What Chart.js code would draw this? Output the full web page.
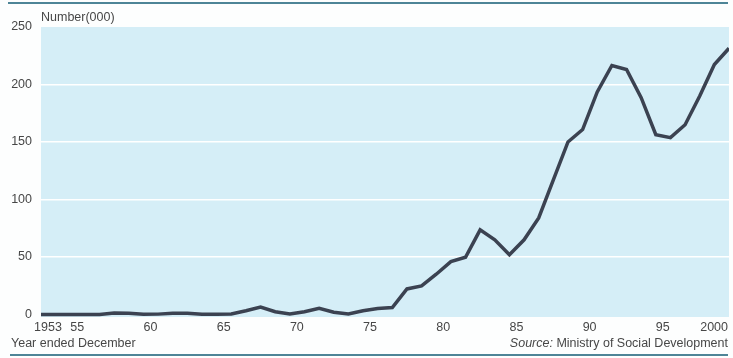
<!DOCTYPE html>
<html>
<head>
<meta charset="utf-8">
<script src="https://cdn.jsdelivr.net/npm/chart.js@4.4.1/dist/chart.umd.min.js"></script>
<style>
  html, body { margin: 0; padding: 0; background: #fdfefe; }
  #wrap { position: relative; width: 733px; height: 358px; }
</style>
</head>
<body>
<div id="wrap"><canvas id="c" width="733" height="358"></canvas></div>
<script>
// ---- Data ----
const years = [1953,1954,1955,1956,1957,1958,1959,1960,1961,1962,1963,1964,1965,1966,1967,1968,1969,1970,1971,1972,1973,1974,1975,1976,1977,1978,1979,1980,1981,1982,1983,1984,1985,1986,1987,1988,1989,1990,1991,1992,1993,1994,1995,1996,1997,1998,1999,2000];
const beneficiaries = [0,0,0,0,0,1.2,1.1,0.2,0.3,1.1,1.0,0.2,0.2,0.4,3.3,6.5,2.4,0.5,2.4,5.4,2.0,0.5,3.3,5.2,6.0,22.2,24.8,35,46,49.8,73.6,64.9,51.9,64.9,84,117,150,160.8,193.5,216.5,213,188.5,156.4,153.8,165,190,217.4,231.5];
const xTickYears = [1953,1955,1960,1965,1970,1975,1980,1985,1990,1995,2000];
const xTickLabels = ['1953','55','60','65','70','75','80','85','90','95','2000'];
const yTickValues = [0,50,100,150,200,250];

const TEXT = '#474747';
const FONT = 'Liberation Sans, Arial, sans-serif';

const decor = {
  id: 'decor',
  beforeDraw(chart) {
    const {ctx, chartArea: a} = chart;
    ctx.save();
    ctx.fillStyle = '#d5eef7';
    ctx.fillRect(a.left, a.top, a.right - a.left, a.bottom - a.top);
    ctx.restore();
  },
  afterDraw(chart) {
    const {ctx, chartArea: a} = chart;
    const xs = chart.scales.x;
    ctx.save();
    // rules
    ctx.strokeStyle = '#4e8597';
    ctx.lineWidth = 2;
    ctx.beginPath(); ctx.moveTo(8, 3); ctx.lineTo(728, 3); ctx.stroke();
    ctx.beginPath(); ctx.moveTo(10, 355); ctx.lineTo(728, 355); ctx.stroke();
    // x tick labels
    ctx.fillStyle = TEXT;
    ctx.font = '12.5px ' + FONT;
    ctx.textBaseline = 'alphabetic';
    xTickYears.forEach((yr, i) => {
      const last = i === xTickYears.length - 1;
      if (last) {
        ctx.textAlign = 'right';
        ctx.fillText(xTickLabels[i], a.right - 1, 331);
      } else {
        ctx.textAlign = 'center';
        ctx.fillText(xTickLabels[i], xs.getPixelForValue(yr) + 7, 331);
      }
    });
    // titles
    ctx.textAlign = 'left';
    ctx.fillText('Number(000)', 41, 21);
    ctx.fillText('Year ended December', 11, 347);
    ctx.textAlign = 'right';
    const rest = ' Ministry of Social Development';
    ctx.fillText(rest, 728, 347);
    const w = ctx.measureText(rest).width;
    ctx.font = 'italic 12.5px ' + FONT;
    ctx.fillText('Source:', 728 - w, 347);
    ctx.restore();
  }
};

new Chart(document.getElementById('c'), {
  type: 'line',
  data: {
    datasets: [{
      data: years.map((y, i) => ({x: y, y: beneficiaries[i]})),
      borderColor: '#3b4251',
      borderWidth: 3.5,
      borderJoinStyle: 'miter',
      pointRadius: 0,
      tension: 0,
      fill: false
    }]
  },
  options: {
    responsive: false,
    animation: false,
    events: [],
    layout: { padding: { left: 0, right: 4, top: 27, bottom: 0 } },
    plugins: { legend: { display: false }, tooltip: { enabled: false }, title: { display: false } },
    scales: {
      x: {
        type: 'linear',
        min: 1953,
        max: 2000,
        grid: { display: false },
        border: { display: false },
        ticks: { display: false },
        afterFit(s) { s.height = 41; }
      },
      y: {
        type: 'linear',
        min: -2.2,
        max: 250,
        afterBuildTicks(s) { s.ticks = yTickValues.map(v => ({value: v})); },
        afterFit(s) { s.width = 41; },
        border: { display: false },
        grid: {
          drawTicks: false,
          color: c => (c.tick && c.tick.value > 0 && c.tick.value < 250) ? '#ffffff' : 'rgba(0,0,0,0)',
          lineWidth: 1.5
        },
        ticks: {
          padding: 9,
          color: TEXT,
          font: { family: FONT, size: 12.5 },
          callback: v => String(v)
        }
      }
    }
  },
  plugins: [decor]
});
</script>
</body>
</html>
